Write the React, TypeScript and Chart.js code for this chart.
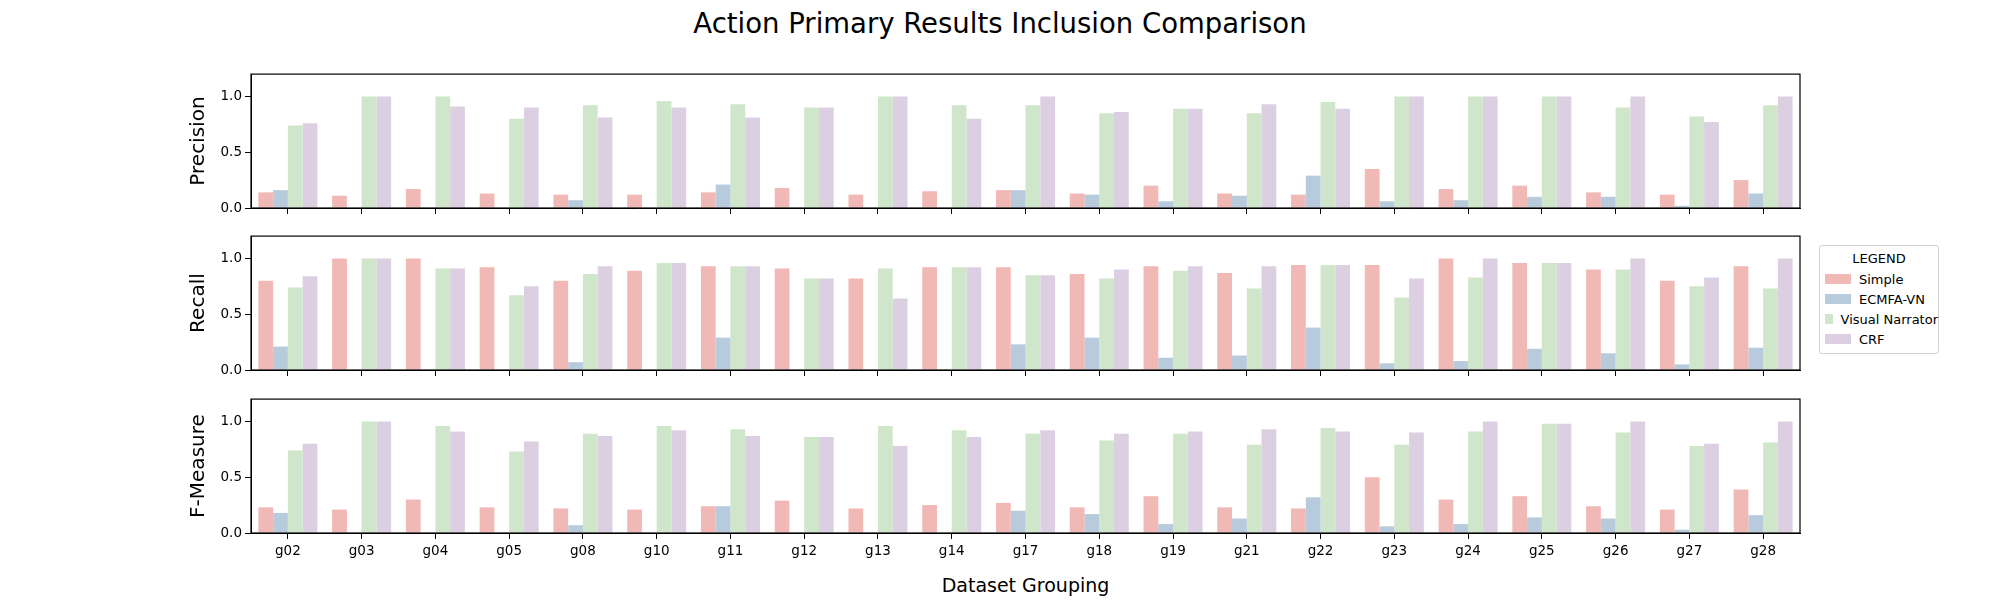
import React, { useEffect, useRef } from 'react';
import { Chart, registerables } from 'chart.js';

Chart.register(...registerables);

const groups = ['g02', 'g03', 'g04', 'g05', 'g08', 'g10', 'g11', 'g12', 'g13', 'g14', 'g17', 'g18', 'g19', 'g21', 'g22', 'g23', 'g24', 'g25', 'g26', 'g27', 'g28'];
const seriesNames = ['Simple', 'ECMFA-VN', 'Visual Narrator', 'CRF'];
const seriesColors = ['#f1b9b5', '#b8cbdd', '#d0e6cb', '#dccfe2'];
const yTicks = [0, 0.5, 1.0];

const precisionSimple = [0.14, 0.11, 0.17, 0.13, 0.12, 0.12, 0.14, 0.18, 0.12, 0.15, 0.16, 0.13, 0.20, 0.13, 0.12, 0.35, 0.17, 0.20, 0.14, 0.12, 0.25];
const precisionEcmfa = [0.16, 0, 0, 0, 0.07, 0, 0.21, 0, 0, 0, 0.16, 0.12, 0.06, 0.11, 0.29, 0.06, 0.07, 0.10, 0.10, 0.02, 0.13];
const precisionVN = [0.74, 1, 1, 0.80, 0.92, 0.96, 0.93, 0.90, 1, 0.92, 0.92, 0.85, 0.89, 0.85, 0.95, 1, 1, 1, 0.90, 0.82, 0.92];
const precisionCRF = [0.76, 1, 0.91, 0.90, 0.81, 0.90, 0.81, 0.90, 1, 0.80, 1, 0.86, 0.89, 0.93, 0.89, 1, 1, 1, 1, 0.77, 1];

const recallSimple = [0.80, 1, 1, 0.92, 0.80, 0.89, 0.93, 0.91, 0.82, 0.92, 0.92, 0.86, 0.93, 0.87, 0.94, 0.94, 1, 0.96, 0.90, 0.80, 0.93];
const recallEcmfa = [0.21, 0, 0, 0, 0.07, 0, 0.29, 0, 0, 0, 0.23, 0.29, 0.11, 0.13, 0.38, 0.06, 0.08, 0.19, 0.15, 0.05, 0.20];
const recallVN = [0.74, 1, 0.91, 0.67, 0.86, 0.96, 0.93, 0.82, 0.91, 0.92, 0.85, 0.82, 0.89, 0.73, 0.94, 0.65, 0.83, 0.96, 0.90, 0.75, 0.73];
const recallCRF = [0.84, 1, 0.91, 0.75, 0.93, 0.96, 0.93, 0.82, 0.64, 0.92, 0.85, 0.90, 0.93, 0.93, 0.94, 0.82, 1, 0.96, 1, 0.83, 1];

const fSimple = [0.23, 0.21, 0.30, 0.23, 0.22, 0.21, 0.24, 0.29, 0.22, 0.25, 0.27, 0.23, 0.33, 0.23, 0.22, 0.50, 0.30, 0.33, 0.24, 0.21, 0.39];
const fEcmfa = [0.18, 0, 0, 0, 0.07, 0, 0.24, 0, 0, 0, 0.20, 0.17, 0.08, 0.13, 0.32, 0.06, 0.08, 0.14, 0.13, 0.03, 0.16];
const fVN = [0.74, 1, 0.96, 0.73, 0.89, 0.96, 0.93, 0.86, 0.96, 0.92, 0.89, 0.83, 0.89, 0.79, 0.94, 0.79, 0.91, 0.98, 0.90, 0.78, 0.81];
const fCRF = [0.80, 1, 0.91, 0.82, 0.87, 0.92, 0.87, 0.86, 0.78, 0.86, 0.92, 0.89, 0.91, 0.93, 0.91, 0.90, 1, 0.98, 1, 0.80, 1];

const FONT = "'DejaVu Sans', sans-serif";
const Y_AXIS_W = 64;

// draws the black frame round the plot area
const framePlugin = {
  id: 'frame',
  afterDraw(chart: Chart) {
    const { ctx, chartArea: a } = chart;
    ctx.save();
    ctx.strokeStyle = '#000';
    ctx.lineWidth = 1.2;
    ctx.strokeRect(a.left, a.top, a.right - a.left, a.bottom - a.top);
    ctx.restore();
  }
};

interface PanelProps {
  title: string;
  values: number[][];
  top: number;
  showLabels: boolean;
}

const Panel: React.FC<PanelProps> = ({ title, values, top, showLabels }) => {
  const ref = useRef<HTMLCanvasElement>(null);
  useEffect(() => {
    if (!ref.current) return;
    const xHeight = showLabels ? 30 : 25;
    const chart = new Chart(ref.current, {
      type: 'bar',
      data: {
        labels: groups,
        datasets: seriesNames.map((name, i) => ({
          label: name,
          data: values[i],
          backgroundColor: seriesColors[i],
          borderWidth: 0,
          barPercentage: 1,
          categoryPercentage: 0.8
        }))
      },
      plugins: [framePlugin],
      options: {
        animation: false,
        responsive: false,
        layout: { padding: { top: 10, right: 1, left: 0, bottom: 0 } },
        plugins: { legend: { display: false }, tooltip: { enabled: false } },
        scales: {
          x: {
            grid: { display: true, drawOnChartArea: false, offset: false, tickLength: 6, color: '#000' },
            border: { color: '#000' },
            ticks: { display: showLabels, color: '#000', font: { family: FONT, size: 13.5 }, maxRotation: 0, padding: 4 },
            afterFit: (s: any) => { s.height = xHeight; }
          },
          y: {
            min: 0,
            max: 1.2,
            afterBuildTicks: (s: any) => { s.ticks = yTicks.map(v => ({ value: v })); },
            grid: { drawOnChartArea: false, tickLength: 6, color: '#000' },
            border: { color: '#000' },
            ticks: { color: '#000', font: { family: FONT, size: 13.5 }, callback: (v: any) => Number(v).toFixed(1) },
            title: { display: true, text: title, color: '#000', font: { family: FONT, size: 20 }, padding: { top: 0, bottom: 4 } },
            afterFit: (s: any) => { s.width = Y_AXIS_W; }
          }
        }
      }
    });
    return () => chart.destroy();
  }, []);
  const height = 135 + 10 + (showLabels ? 30 : 25);
  const width = 1800 - 251 + Y_AXIS_W + 1;
  return (
    <canvas ref={ref} width={width} height={height}
      style={{ position: 'absolute', left: 251 - Y_AXIS_W, top: top - 10, width, height }} />
  );
};

export default function App() {
  return (
    <div style={{ position: 'fixed', left: 0, top: 0, width: 2000, height: 600, background: '#fff', fontFamily: FONT }}>
      <div style={{ position: 'absolute', top: 7, left: 0, width: 2000, textAlign: 'center', fontSize: 27.5 }}>
        Action Primary Results Inclusion Comparison
      </div>
      <Panel title="Precision" values={[precisionSimple, precisionEcmfa, precisionVN, precisionCRF]} top={73} showLabels={false} />
      <Panel title="Recall" values={[recallSimple, recallEcmfa, recallVN, recallCRF]} top={235} showLabels={false} />
      <Panel title="F-Measure" values={[fSimple, fEcmfa, fVN, fCRF]} top={398} showLabels={true} />
      <div style={{ position: 'absolute', top: 574, left: 251, width: 1549, textAlign: 'center', fontSize: 19 }}>
        Dataset Grouping
      </div>
      <div style={{ position: 'absolute', left: 1819, top: 245, width: 118, height: 107, border: '1px solid #d0d0d0', borderRadius: 3, fontSize: 13, background: '#fff' }}>
        <div style={{ textAlign: 'center', marginTop: 5, marginBottom: 3 }}>LEGEND</div>
        {seriesNames.map((n, i) => (
          <div key={n} style={{ display: 'flex', alignItems: 'center', height: 20, paddingLeft: 5 }}>
            <span style={{ display: 'inline-block', width: 26, height: 10, background: seriesColors[i], marginRight: 8 }} />
            <span style={{ whiteSpace: 'nowrap' }}>{n}</span>
          </div>
        ))}
      </div>
    </div>
  );
}
